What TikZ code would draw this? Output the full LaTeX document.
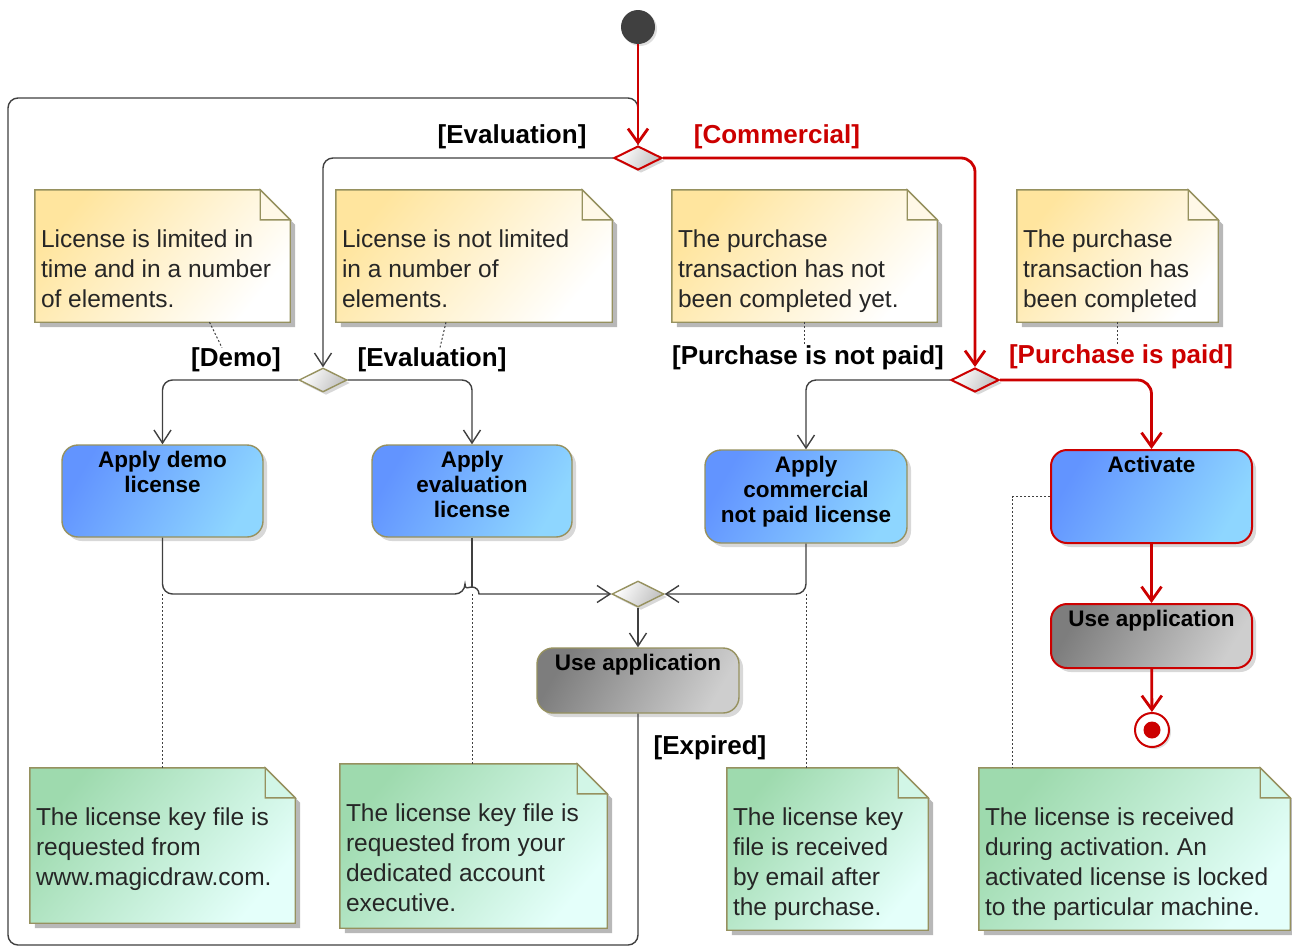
\documentclass[tikz,border=0pt]{standalone}
\usepackage{fontspec}
\setmainfont{Liberation Sans}
\usetikzlibrary{shapes.geometric, arrows.meta, shadows}
\frenchspacing

\definecolor{mdred}{RGB}{204,0,0}
\definecolor{mdline}{RGB}{64,64,64}
\definecolor{mdolive}{RGB}{150,145,95}
\definecolor{bluel}{RGB}{98,148,255}
\definecolor{bluer}{RGB}{142,214,255}
\definecolor{grayl}{RGB}{125,125,125}
\definecolor{grayr}{RGB}{206,206,206}
\definecolor{notey}{RGB}{255,229,158}
\definecolor{noteyw}{RGB}{255,255,255}
\definecolor{noteg}{RGB}{158,218,174}
\definecolor{notegw}{RGB}{228,255,250}

% note with folded corner round an empty node
\newcommand{\notefold}[3]{%
  \fill[black!28] ([shift={(5pt,-5pt)}]#1.north west) -- ([shift={(-25pt,-5pt)}]#1.north east)
    -- ([shift={(5pt,-35pt)}]#1.north east) -- ([shift={(5pt,-5pt)}]#1.south east)
    -- ([shift={(5pt,-5pt)}]#1.south west) -- cycle;
  \shade[left color=#2, right color=#3, shading angle=50] (#1.north west) -- ([xshift=-30pt]#1.north east)
    -- ([yshift=-30pt]#1.north east) -- (#1.south east) -- (#1.south west) -- cycle;
  \draw[mdolive, line width=1.4pt] (#1.north west) -- ([xshift=-30pt]#1.north east)
    -- ([yshift=-30pt]#1.north east) -- (#1.south east) -- (#1.south west) -- cycle;
  \filldraw[draw=mdolive, line width=1.4pt, fill=#2!25!#3] ([xshift=-30pt]#1.north east)
    |- ([yshift=-30pt]#1.north east) -- cycle;
}

\begin{document}
\begin{tikzpicture}[x=1pt, y=-1pt,
    flow/.style={draw=mdline, line width=1.4pt, rounded corners=10pt, -{Straight Barb[length=13pt, width=17pt]}},
    redflow/.style={draw=mdred, line width=2.8pt, rounded corners=14pt, -{Straight Barb[length=14pt, width=20pt]}},
    plainline/.style={draw=mdline, line width=1.4pt, rounded corners=10pt},
    anchorline/.style={draw=mdline, line width=1pt, dash pattern=on 2pt off 2pt},
    action/.style={rectangle, rounded corners=16pt, draw=mdolive, line width=1.4pt,
      left color=bluel, right color=bluer, shading angle=60,
      drop shadow={shadow xshift=4pt, shadow yshift=-4pt, fill=black!30}},
    useapp/.style={action, left color=grayl, right color=grayr, shading angle=60},
    redbox/.style={draw=mdred, line width=2pt},
    decision/.style={diamond, minimum width=48pt, minimum height=24pt, inner sep=0pt, draw=mdolive,
      line width=1.4pt, left color=white, right color=black!25, shading angle=60,
      drop shadow={shadow xshift=3pt, shadow yshift=-3pt, fill=black!30}},
    boxtxt/.style={font=\fontsize{22.5}{25}\selectfont\bfseries, align=center, inner sep=0pt,
      anchor=north, yshift=-7pt},
    guard/.style={font=\fontsize{26}{28}\selectfont\bfseries, inner sep=0pt},
    notebox/.style={rectangle, inner sep=0pt},
    notetxt/.style={font=\fontsize{24.5}{30}\selectfont, align=left, inner sep=0pt, anchor=north west,
      text=black!85}]

    \useasboundingbox (0,0) rectangle (1292,948);
    \fill[white] (0,0) rectangle (1292,948);

    % start and decisions
    \node[circle, fill=mdline, minimum size=34pt, inner sep=0pt,
      drop shadow={shadow xshift=2pt, shadow yshift=-2pt, fill=black!25}] (init) at (638,27) {};
    \node[decision, draw=mdred, line width=2pt] (d1) at (638,158) {};
    \node[decision] (d2) at (323,380) {};
    \node[decision, draw=mdred, line width=2pt] (d3) at (975,380) {};
    \node[decision, minimum width=52pt, minimum height=26pt] (merge) at (638,594) {};

    % actions
    \node[action, minimum width=201pt, minimum height=92pt,
      label={[boxtxt]north:{Apply demo\\license}}] (demo) at (162.5,491) {};
    \node[action, minimum width=200pt, minimum height=92pt,
      label={[boxtxt]north:{Apply\\evaluation\\license}}] (eval) at (472,491) {};
    \node[action, minimum width=202pt, minimum height=93pt,
      label={[boxtxt]north:{Apply\\commercial\\not paid license}}] (comm) at (806,496.5) {};
    \node[action, redbox, minimum width=201pt, minimum height=93pt,
      label={[boxtxt]north:{Activate}}] (act) at (1151.5,496.5) {};
    \node[useapp, minimum width=202pt, minimum height=65pt,
      label={[boxtxt]north:{Use application}}] (use) at (638,680.5) {};
    \node[useapp, redbox, minimum width=201pt, minimum height=64pt,
      label={[boxtxt]north:{Use application}}] (usered) at (1151.5,636) {};

    % final
    \node[circle, draw=mdred, line width=2pt, fill=white, minimum size=34pt, inner sep=0pt,
      drop shadow={shadow xshift=2pt, shadow yshift=-2pt, fill=black!25}] (fin) at (1152,730) {};
    \node[circle, fill=mdred, minimum size=17pt, inner sep=0pt] (findot) at (fin) {};

    % yellow notes
    \node[notebox, minimum width=255pt, minimum height=132pt] (ny1) at (162.5,256) {};
    \notefold{ny1}{notey}{noteyw}
    \node[notetxt] (ty1) at ([shift={(6pt,-40pt)}]ny1.north west)
      {License is limited in\\time and in a number\\of elements.};
    \node[notebox, minimum width=276pt, minimum height=132pt] (ny2) at (474,256) {};
    \notefold{ny2}{notey}{noteyw}
    \node[notetxt] (ty2) at ([shift={(6pt,-40pt)}]ny2.north west)
      {License is not limited\\in a number of\\elements.};
    \node[notebox, minimum width=265pt, minimum height=132pt] (ny3) at (804.5,256) {};
    \notefold{ny3}{notey}{noteyw}
    \node[notetxt] (ty3) at ([shift={(6pt,-40pt)}]ny3.north west)
      {The purchase\\transaction has not\\been completed yet.};
    \node[notebox, minimum width=201pt, minimum height=132pt] (ny4) at (1117.5,256) {};
    \notefold{ny4}{notey}{noteyw}
    \node[notetxt] (ty4) at ([shift={(6pt,-40pt)}]ny4.north west)
      {The purchase\\transaction has\\been completed};

    % green notes
    \node[notebox, minimum width=265pt, minimum height=155pt] (ng1) at (162.5,845.5) {};
    \notefold{ng1}{noteg}{notegw}
    \node[notetxt] (tg1) at ([shift={(6pt,-40pt)}]ng1.north west)
      {The license key file is\\requested from\\www.magicdraw.com.};
    \node[notebox, minimum width=267pt, minimum height=164pt] (ng2) at (473.5,846) {};
    \notefold{ng2}{noteg}{notegw}
    \node[notetxt] (tg2) at ([shift={(6pt,-40pt)}]ng2.north west)
      {The license key file is\\requested from your\\dedicated account\\executive.};
    \node[notebox, minimum width=201pt, minimum height=162pt] (ng3) at (827.5,849) {};
    \notefold{ng3}{noteg}{notegw}
    \node[notetxt] (tg3) at ([shift={(6pt,-40pt)}]ng3.north west)
      {The license key\\file is received\\by email after\\the purchase.};
    \node[notebox, minimum width=311pt, minimum height=162pt] (ng4) at (1134.5,849) {};
    \notefold{ng4}{noteg}{notegw}
    \node[notetxt] (tg4) at ([shift={(6pt,-40pt)}]ng4.north west)
      {The license is received\\during activation. An\\activated license is locked\\to the particular machine.};

    % guards
    \node[guard] (gevala) at (512,137) {[Evaluation]};
    \node[guard, text=mdred] (gcomm) at (777,137) {[Commercial]};
    \node[guard] (gdemo) at (236,360) {[Demo]};
    \node[guard] (gevalb) at (432,360) {[Evaluation]};
    \node[guard] (gnotpaid) at (808,358) {[Purchase is not paid]};
    \node[guard, text=mdred] (gpaid) at (1121,357) {[Purchase is paid]};
    \node[guard] (gexp) at (710,748) {[Expired]};

    % loop back after expiry
    \coordinate (loopbl) at (8,945);
    \coordinate (looptl) at (8,98);
    \draw[plainline] (use.south) |- (loopbl) -- (looptl) -| (d1.north);

    % flows
    \draw[redflow] (init) -- (d1);
    \draw[flow] (d1.west) -| (d2.north);
    \draw[redflow] (d1.east) -| (d3.north);
    \draw[flow] (d2.west) -| (demo.north);
    \draw[flow] (d2.east) -| (eval.north);
    \draw[flow] (d3.west) -| (comm.north);
    \draw[redflow] (d3.east) -| (act.north);
    \draw[redflow] (act) -- (usered);
    \draw[redflow] (usered) -- (fin);

    % merge
    \coordinate (hop) at (eval.south |- merge.west);
    \draw[flow] (demo.south) |- ([xshift=-7pt]hop) [sharp corners] arc[start angle=180, end angle=0, radius=7pt]
      -- (merge.west);
    \draw[plainline] (eval.south) -- ([yshift=7pt]hop);
    \draw[flow] (comm.south) |- (merge.east);
    \draw[flow] (merge) -- (use);

    % note anchors
    \draw[anchorline] ([xshift=47pt]ny1.south) -- ([xshift=-14pt]gdemo.north);
    \draw[anchorline] ([xshift=-28pt]ny2.south) -- ([xshift=8pt]gevalb.north);
    \draw[anchorline] (ny3.south) -- (ny3.south |- gnotpaid.north);
    \draw[anchorline] (ny4.south) -- (ny4.south |- gpaid.north);
    \draw[anchorline] (demo.south |- merge.west) -- (demo.south |- ng1.north);
    \draw[anchorline] (hop) -- (hop |- ng2.north);
    \draw[anchorline] (comm.south |- merge.east) -- (comm.south |- ng3.north);
    \draw[anchorline] (act.west) -| ([xshift=34pt]ng4.north west);
\end{tikzpicture}
\end{document}
